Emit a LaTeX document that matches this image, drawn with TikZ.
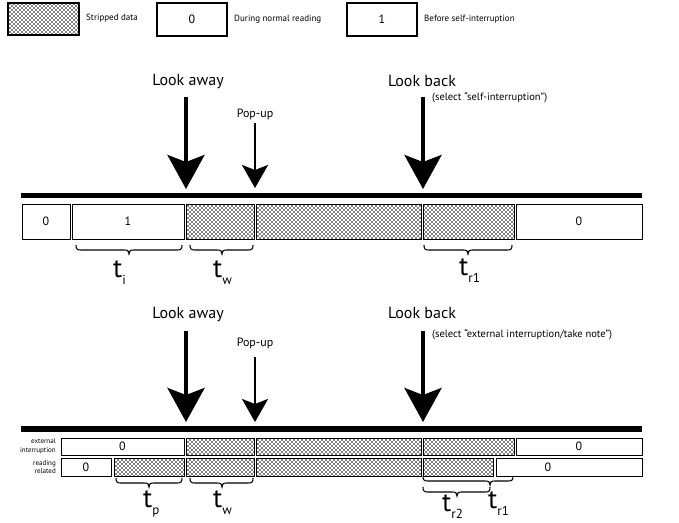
\documentclass[tikz,border=0pt]{standalone}
\usepackage{fontspec}
\setmainfont{PT Sans}
\usetikzlibrary{arrows.meta,patterns}

\pgfdeclarepatternformonly{stipple}{\pgfqpoint{-1pt}{-1pt}}{\pgfqpoint{3pt}{3pt}}{\pgfqpoint{4pt}{4pt}}{%
  \pgfpathcircle{\pgfqpoint{0pt}{0pt}}{0.85pt}%
  \pgfpathcircle{\pgfqpoint{2pt}{2pt}}{0.85pt}%
  \pgfusepath{fill}}

\newcommand{\bx}[7]{%
  \node[#2, minimum width={#5pt-#3pt}, minimum height={#6pt-#4pt}] (#1) at ({(#3+#5)/2},{(#4+#6)/2}) {#7};}

\newcommand{\tbrace}[4]{%
  \draw[bracestyle] (#1,#4) .. controls (#1,#4+4) and (#1+1,#4+5) .. (#1+5,#4+5)
    -- (#3-5,#4+5) .. controls (#3-1,#4+5) and (#3,#4+6) .. (#3,#4+9)
    .. controls (#3,#4+6) and (#3+1,#4+5) .. (#3+5,#4+5)
    -- (#2-5,#4+5) .. controls (#2-1,#4+5) and (#2,#4+4) .. (#2,#4);}

\newcommand{\tlab}[4]{%
  \node[anchor=base west, inner sep=0pt] (#1) at (#2,#3)
    {\fontsize{27}{27}\selectfont t\raisebox{-7pt}{\fontsize{13}{13}\selectfont #4}};}

\begin{document}
\begin{tikzpicture}[x=1pt,y=-1pt,
  box/.style={draw, line width=1pt, inner sep=0pt, outer sep=0pt, font=\fontsize{12}{12}\selectfont},
  strip/.style={box, pattern=stipple},
  legbox/.style={box, line width=1.7pt},
  legstrip/.style={legbox, pattern=stipple},
  legtext/.style={anchor=west, inner sep=0pt, font=\fontsize{9}{9}\selectfont},
  bigtext/.style={inner sep=0pt, font=\fontsize{16}{16}\selectfont},
  poptext/.style={inner sep=0pt, font=\fontsize{12}{12}\selectfont},
  seltext/.style={anchor=west, inner sep=0pt, font=\fontsize{10.5}{10.5}\selectfont},
  rowtext/.style={anchor=east, align=right, inner sep=0pt, font=\fontsize{7}{8.5}\selectfont},
  bar/.style={line width=5.5pt},
  bigarrow/.style={line width=4pt, -{Stealth[length=34pt 0, width=37pt 0, inset=7pt 0]}},
  smallarrow/.style={line width=2.4pt, -{Stealth[length=23pt 0, width=26pt 0, inset=5pt 0]}},
  bracestyle/.style={line width=1.1pt}
]
\useasboundingbox (0,0) rectangle (679,522);

% legend
\bx{legS}{legstrip}{8}{3}{79}{35}{}
\node[legtext] (legSt) at (86,18) {Stripped data};
\bx{legZ}{legbox}{157}{3}{227}{36}{0}
\node[legtext] (legZt) at (234,19) {During normal reading};
\bx{legO}{legbox}{347}{3}{417}{36}{1}
\node[legtext] (legOt) at (424,19) {Before self-interruption};

% ===== top diagram =====
\node[bigtext] (la1) at (188,82) {Look away};
\coordinate (la1s) at (186,97); \coordinate (la1e) at (186,189);
\draw[bigarrow] (la1s) -- (la1e);
\node[poptext] (pu1) at (255,114) {Pop-up};
\coordinate (pu1s) at (255,123); \coordinate (pu1e) at (255,188);
\draw[smallarrow] (pu1s) -- (pu1e);
\node[bigtext] (lb1) at (422,81) {Look back};
\node[seltext] (sel1) at (432,98) {(select “self-interruption”)};
\coordinate (lb1s) at (423,97); \coordinate (lb1e) at (423,189);
\draw[bigarrow] (lb1s) -- (lb1e);

\coordinate (bar1l) at (21,195.5); \coordinate (bar1r) at (642,195.5);
\draw[bar] (bar1l) -- (bar1r);

\bx{tA}{box}{22}{204}{70}{239}{0}
\bx{tB}{box}{72}{204}{184}{239}{1}
\bx{tC}{strip}{186}{204}{254}{239}{}
\bx{tD}{strip}{256}{204}{421}{239}{}
\bx{tE}{strip}{423}{204}{514}{239}{}
\bx{tF}{box}{516}{204}{642}{239}{0}

\tbrace{76}{182}{129}{245}
\tbrace{190}{253}{222}{245}
\tbrace{424}{512}{468}{245}
\tlab{ti}{113}{277}{i}
\tlab{tw}{213}{277}{w}
\tlab{tr1}{459}{275}{r1}

% ===== bottom diagram =====
\node[bigtext] (la2) at (188,315) {Look away};
\coordinate (la2s) at (186,331); \coordinate (la2e) at (186,422);
\draw[bigarrow] (la2s) -- (la2e);
\node[poptext] (pu2) at (255,343) {Pop-up};
\coordinate (pu2s) at (255,357); \coordinate (pu2e) at (255,422);
\draw[smallarrow] (pu2s) -- (pu2e);
\node[bigtext] (lb2) at (422,313) {Look back};
\node[seltext] (sel2) at (432,335) {(select “external interruption/take note”)};
\coordinate (lb2s) at (423,331); \coordinate (lb2e) at (423,422);
\draw[bigarrow] (lb2s) -- (lb2e);

\coordinate (bar2l) at (21,429); \coordinate (bar2r) at (642,429);
\draw[bar] (bar2l) -- (bar2r);

\node[rowtext] (extlab) at (56,446) {external\\interruption};
\node[rowtext] (readlab) at (56,467) {reading\\related};

\bx{eA}{box}{61}{438}{184}{455}{0}
\bx{eC}{strip}{186}{438}{254}{455}{}
\bx{eD}{strip}{256}{438}{421}{455}{}
\bx{eE}{strip}{423}{438}{514}{455}{}
\bx{eF}{box}{516}{438}{642}{455}{0}

\bx{rA}{box}{61}{458}{111}{476}{0}
\bx{rB}{strip}{114}{458}{184}{476}{}
\bx{rC}{strip}{186}{458}{254}{476}{}
\bx{rD}{strip}{256}{458}{421}{476}{}
\bx{rE}{strip}{423}{458}{493}{476}{}
\bx{rF}{box}{496}{458}{642}{476}{}
\node[inner sep=0pt, font=\fontsize{12}{12}\selectfont] (rFt) at (548,467) {0};

\tbrace{116}{182}{149}{478}
\tbrace{190}{253}{222}{478}
\tbrace{423}{513}{490}{476}
\tbrace{423}{490}{457}{487}
\tlab{tp}{143}{507}{p}
\tlab{tw2}{213}{507}{w}
\tlab{tr2}{442}{511}{r2}
\tlab{tr1b}{488}{508}{r1}
\end{tikzpicture}
\end{document}
